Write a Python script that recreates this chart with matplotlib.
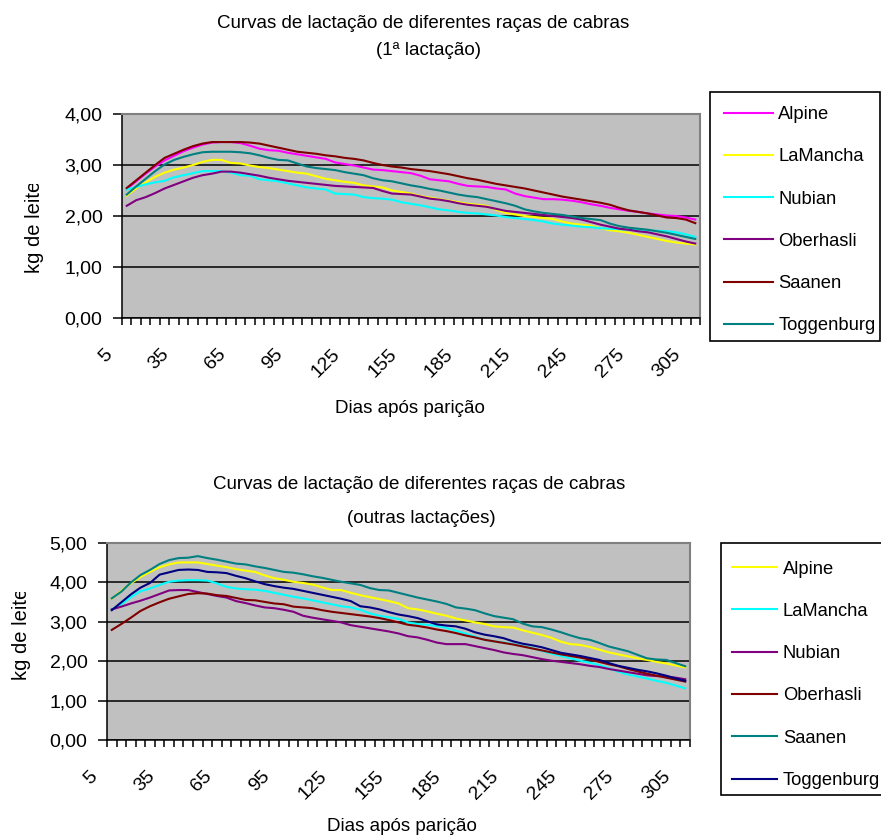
import matplotlib
matplotlib.use("Agg")
import matplotlib.pyplot as plt
from matplotlib.transforms import ScaledTranslation, Bbox, TransformedBbox

plt.rcParams['font.family'] = ['Liberation Sans', 'DejaVu Sans']

# dias após parição (categorias do eixo x)
dias = list(range(5, 310, 5))
rotulos_x = [str(d) for d in dias[::6]]

# 1ª lactação
racas_1 = ["Alpine", "LaMancha", "Nubian", "Oberhasli", "Saanen", "Toggenburg"]
cores_1 = ["#ff00ff", "#ffff00", "#00ffff", "#800080", "#800000", "#008080"]

alpine_1 = [2.53, 2.68, 2.83, 2.97, 3.09, 3.18, 3.27, 3.34, 3.40, 3.44, 3.45, 3.45, 3.43, 3.38, 3.32, 3.29,
            3.28, 3.24, 3.21, 3.18, 3.15, 3.12, 3.05, 3.02, 2.99, 2.95, 2.91, 2.90, 2.88, 2.86, 2.84, 2.79,
            2.72, 2.70, 2.68, 2.63, 2.59, 2.58, 2.57, 2.54, 2.52, 2.44, 2.39, 2.36, 2.33, 2.33, 2.32, 2.30,
            2.27, 2.23, 2.20, 2.16, 2.13, 2.10, 2.08, 2.05, 2.03, 2.01, 2.00, 1.97, 1.93]
lamancha_1 = [2.40, 2.54, 2.66, 2.77, 2.85, 2.91, 2.95, 3.00, 3.06, 3.10, 3.10, 3.04, 3.03, 2.99, 2.96, 2.94,
              2.91, 2.88, 2.85, 2.83, 2.78, 2.73, 2.70, 2.67, 2.65, 2.60, 2.58, 2.56, 2.50, 2.47, 2.44, 2.39,
              2.36, 2.33, 2.30, 2.27, 2.24, 2.22, 2.20, 2.12, 2.06, 2.03, 2.00, 1.98, 1.96, 1.94, 1.89, 1.85,
              1.83, 1.81, 1.76, 1.72, 1.70, 1.67, 1.63, 1.59, 1.55, 1.51, 1.48, 1.46, 1.44]
nubian_1 = [2.52, 2.57, 2.62, 2.66, 2.69, 2.76, 2.80, 2.84, 2.88, 2.88, 2.88, 2.85, 2.80, 2.79, 2.72, 2.70,
            2.68, 2.64, 2.60, 2.56, 2.54, 2.52, 2.44, 2.43, 2.42, 2.37, 2.35, 2.34, 2.32, 2.27, 2.24, 2.21,
            2.17, 2.13, 2.11, 2.08, 2.06, 2.05, 2.03, 2.01, 1.98, 1.96, 1.94, 1.92, 1.89, 1.85, 1.83, 1.81,
            1.79, 1.78, 1.76, 1.75, 1.74, 1.73, 1.72, 1.72, 1.71, 1.70, 1.68, 1.64, 1.59]
oberhasli_1 = [2.20, 2.31, 2.37, 2.45, 2.54, 2.61, 2.68, 2.75, 2.80, 2.83, 2.87, 2.87, 2.85, 2.82, 2.79, 2.75,
               2.72, 2.69, 2.67, 2.65, 2.63, 2.61, 2.59, 2.58, 2.57, 2.56, 2.55, 2.49, 2.44, 2.43, 2.42, 2.38,
               2.34, 2.32, 2.29, 2.25, 2.22, 2.20, 2.18, 2.14, 2.10, 2.08, 2.06, 2.04, 2.02, 2.00, 1.98, 1.96,
               1.93, 1.88, 1.83, 1.79, 1.75, 1.73, 1.70, 1.68, 1.64, 1.60, 1.55, 1.50, 1.46]
saanen_1 = [2.55, 2.70, 2.85, 3.00, 3.14, 3.22, 3.30, 3.37, 3.42, 3.45, 3.45, 3.45, 3.45, 3.44, 3.42, 3.38,
            3.34, 3.30, 3.26, 3.24, 3.22, 3.19, 3.17, 3.14, 3.12, 3.09, 3.04, 3.00, 2.97, 2.95, 2.92, 2.90,
            2.88, 2.85, 2.82, 2.78, 2.74, 2.71, 2.67, 2.63, 2.60, 2.57, 2.54, 2.50, 2.46, 2.42, 2.38, 2.35,
            2.32, 2.29, 2.26, 2.22, 2.16, 2.11, 2.08, 2.05, 2.01, 1.97, 1.96, 1.93, 1.86]
toggenburg_1 = [2.42, 2.58, 2.73, 2.88, 3.01, 3.10, 3.16, 3.21, 3.25, 3.26, 3.26, 3.26, 3.25, 3.23, 3.19, 3.14,
                3.10, 3.09, 3.03, 2.97, 2.94, 2.92, 2.90, 2.86, 2.83, 2.80, 2.74, 2.70, 2.68, 2.64, 2.60, 2.57,
                2.53, 2.50, 2.46, 2.42, 2.39, 2.37, 2.33, 2.29, 2.25, 2.20, 2.13, 2.09, 2.06, 2.04, 2.02, 1.99,
                1.96, 1.94, 1.92, 1.85, 1.80, 1.77, 1.75, 1.73, 1.70, 1.67, 1.63, 1.59, 1.55]

# outras lactações
racas_2 = ["Alpine", "LaMancha", "Nubian", "Oberhasli", "Saanen", "Toggenburg"]
cores_2 = ["#ffff00", "#00ffff", "#800080", "#800000", "#008080", "#000080"]

alpine_2 = [3.58, 3.78, 3.97, 4.13, 4.26, 4.38, 4.45, 4.50, 4.50, 4.50, 4.46, 4.42, 4.38, 4.33, 4.29, 4.26,
            4.17, 4.10, 4.06, 4.01, 3.98, 3.94, 3.87, 3.80, 3.80, 3.73, 3.67, 3.62, 3.57, 3.52, 3.46, 3.34,
            3.31, 3.26, 3.20, 3.15, 3.08, 3.03, 2.98, 2.94, 2.88, 2.86, 2.85, 2.78, 2.72, 2.66, 2.59, 2.49,
            2.43, 2.41, 2.36, 2.29, 2.22, 2.17, 2.12, 2.07, 2.03, 1.98, 1.94, 1.89, 1.84]
lamancha_2 = [3.31, 3.44, 3.62, 3.77, 3.84, 3.93, 4.01, 4.04, 4.05, 4.05, 4.04, 3.97, 3.88, 3.84, 3.82, 3.81,
              3.78, 3.73, 3.68, 3.63, 3.59, 3.54, 3.49, 3.44, 3.39, 3.36, 3.30, 3.21, 3.15, 3.11, 3.07, 2.98,
              2.94, 2.92, 2.89, 2.84, 2.77, 2.70, 2.62, 2.54, 2.50, 2.47, 2.43, 2.38, 2.33, 2.26, 2.19, 2.13,
              2.07, 2.01, 1.96, 1.90, 1.82, 1.73, 1.66, 1.61, 1.56, 1.50, 1.45, 1.38, 1.31]
nubian_2 = [3.31, 3.38, 3.46, 3.53, 3.61, 3.70, 3.79, 3.80, 3.80, 3.75, 3.70, 3.65, 3.61, 3.52, 3.47, 3.41,
            3.36, 3.34, 3.30, 3.25, 3.15, 3.10, 3.06, 3.02, 2.98, 2.91, 2.87, 2.83, 2.79, 2.75, 2.70, 2.63,
            2.60, 2.54, 2.47, 2.43, 2.43, 2.43, 2.38, 2.33, 2.28, 2.22, 2.18, 2.15, 2.10, 2.05, 2.01, 1.98,
            1.95, 1.92, 1.88, 1.85, 1.80, 1.76, 1.72, 1.68, 1.64, 1.62, 1.61, 1.58, 1.54]
oberhasli_2 = [2.79, 2.94, 3.10, 3.27, 3.39, 3.49, 3.58, 3.64, 3.70, 3.72, 3.71, 3.67, 3.65, 3.60, 3.55, 3.54,
               3.50, 3.46, 3.44, 3.38, 3.36, 3.34, 3.29, 3.25, 3.22, 3.19, 3.16, 3.13, 3.09, 3.04, 2.98, 2.92,
               2.89, 2.85, 2.80, 2.76, 2.71, 2.65, 2.60, 2.54, 2.50, 2.46, 2.42, 2.37, 2.32, 2.27, 2.22, 2.17,
               2.13, 2.09, 2.04, 1.98, 1.92, 1.87, 1.80, 1.74, 1.68, 1.63, 1.58, 1.53, 1.48]
saanen_2 = [3.59, 3.76, 3.99, 4.18, 4.31, 4.46, 4.56, 4.61, 4.62, 4.66, 4.61, 4.57, 4.52, 4.47, 4.45, 4.40,
            4.36, 4.31, 4.26, 4.24, 4.20, 4.15, 4.11, 4.06, 4.01, 3.97, 3.93, 3.85, 3.80, 3.79, 3.73, 3.67,
            3.61, 3.56, 3.51, 3.45, 3.36, 3.33, 3.29, 3.21, 3.14, 3.10, 3.06, 2.95, 2.88, 2.86, 2.80, 2.73,
            2.65, 2.58, 2.54, 2.46, 2.37, 2.31, 2.25, 2.16, 2.07, 2.04, 2.03, 1.95, 1.87]
toggenburg_2 = [3.29, 3.49, 3.69, 3.86, 3.98, 4.19, 4.25, 4.31, 4.32, 4.31, 4.26, 4.25, 4.23, 4.16, 4.10, 4.02,
                3.95, 3.90, 3.86, 3.83, 3.78, 3.73, 3.68, 3.63, 3.58, 3.52, 3.39, 3.36, 3.31, 3.24, 3.18, 3.14,
                3.09, 3.01, 2.93, 2.90, 2.88, 2.82, 2.73, 2.67, 2.63, 2.58, 2.50, 2.44, 2.40, 2.35, 2.28, 2.21,
                2.17, 2.13, 2.08, 2.03, 1.95, 1.88, 1.83, 1.78, 1.74, 1.69, 1.63, 1.56, 1.50]

series_1 = [alpine_1, lamancha_1, nubian_1, oberhasli_1, saanen_1, toggenburg_1]
series_2 = [alpine_2, lamancha_2, nubian_2, oberhasli_2, saanen_2, toggenburg_2]

W, H = 881, 836
fig = plt.figure(figsize=(W / 100, H / 100), dpi=100)


def px(x, y):
    # pixel (a partir do canto superior esquerdo) -> fração da figura
    return x / W, 1 - y / H


def grafico(rect, series, nomes, cores, ymax, caixa, leg_xy, espaco, hlen):
    ax = fig.add_axes(rect)
    x = list(range(len(dias)))
    for y, nome, cor in zip(series, nomes, cores):
        ax.plot(x, y, color=cor, lw=1.5, label=nome, solid_joinstyle='miter')
    ax.set_facecolor('#c0c0c0')
    ax.set_xlim(-0.5, len(dias) - 0.5)
    ax.set_ylim(0, ymax)
    ax.set_yticks(range(0, ymax + 1))
    ax.set_yticklabels([f"{v},00" for v in range(0, ymax + 1)])
    ax.yaxis.grid(True, color='black', lw=1.1)
    ax.set_axisbelow(True)

    ax.set_xticks([i - 0.5 for i in range(len(dias) + 1)])
    ax.set_xticklabels([])
    ax.set_xticks(x[::6], minor=True)
    ax.set_xticklabels(rotulos_x, minor=True, rotation=45, ha='right', va='top')
    ax.tick_params(axis='x', which='major', length=5, width=1.1, direction='out')
    ax.tick_params(axis='x', which='minor', length=0, pad=20, labelsize=14)
    ax.tick_params(axis='y', length=6.5, width=1.1, pad=7.5, labelsize=14)
    desloc = ScaledTranslation(-11 / 100, 0, fig.dpi_scale_trans)
    for lab in ax.get_xticklabels(minor=True):
        lab.set_transform(lab.get_transform() + desloc)

    ax.spines['left'].set_linewidth(1.1)
    ax.spines['bottom'].set_linewidth(1.1)
    for s in ['top', 'right']:
        ax.spines[s].set_color('#808080')
        ax.spines[s].set_linewidth(1.5)

    # moldura da legenda desenhada à parte, como no Excel
    x0, y0, x1, y1 = caixa
    l0, b0 = px(x0, y1)
    fig.patches.append(plt.Rectangle((l0, b0), (x1 - x0) / W, (y1 - y0) / H, transform=fig.transFigure,
                                     facecolor='white', edgecolor='black', lw=1.2, zorder=-1))
    leg = ax.legend(loc='upper left', bbox_to_anchor=px(*leg_xy), bbox_transform=fig.transFigure,
                    borderaxespad=0, borderpad=0, fontsize=13.2, handlelength=hlen, handletextpad=0.3,
                    labelspacing=espaco, frameon=False)
    for h in leg.get_lines():
        h.set_linewidth(1.5)
    return ax


# gráfico de cima
l, b = px(122, 318)
grafico([l, b, 578 / W, 204 / H], series_1, racas_1, cores_1, 4,
        (710, 92, 880, 341), (724, 106), 1.38, 2.66)
# gráfico de baixo
l, b = px(107, 740)
grafico([l, b, 583 / W, 197.3 / H], series_2, racas_2, cores_2, 5,
        (720.5, 542.5, 895, 795), (731.5, 560.5), 1.38, 2.5)

titulo = "Curvas de lactação de diferentes raças de cabras"
fig.text(*px(423, 28), titulo, ha='center', va='baseline', fontsize=13.5)
fig.text(*px(429, 55), "(1ª lactação)", ha='center', va='baseline', fontsize=13.5)
fig.text(*px(419, 489), titulo, ha='center', va='baseline', fontsize=13.5)
fig.text(*px(421, 523), "(outras lactações)", ha='center', va='baseline', fontsize=13.5)

fig.text(*px(410, 413), "Dias após parição", ha='center', va='baseline', fontsize=13.5)
fig.text(*px(402, 831), "Dias após parição", ha='center', va='baseline', fontsize=13.5)

# rótulo do eixo y, cortado no topo como no original
for xc, yb, ycorte in [(35, 273, 184), (22, 680, 592)]:
    t = fig.text(*px(xc, yb), "kg de leite", rotation=90, ha='center', va='bottom', fontsize=14.5)
    corte = TransformedBbox(Bbox([[0, 0], [1, 1 - ycorte / H]]), fig.transFigure)
    t.set_clip_box(corte)
    t.set_clip_on(True)

fig.savefig("out.png", dpi=100)
